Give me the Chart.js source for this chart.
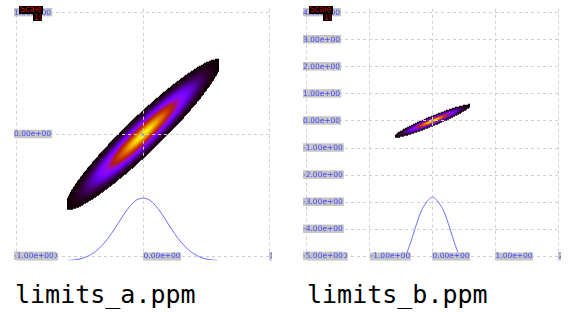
<!DOCTYPE html>
<html><head><meta charset="utf-8">
<script src="https://cdn.jsdelivr.net/npm/chart.js@4"></script>
<style>
html,body{margin:0;padding:0;background:#fff;width:573px;height:313px;overflow:hidden;position:relative}
canvas{position:absolute}
.cap{position:absolute;font-family:"DejaVu Sans Mono",monospace;font-size:25px;line-height:25px;color:#000;white-space:pre}
.leg{position:absolute;background:#000;color:#d00000;font-family:"DejaVu Sans",sans-serif;font-size:8px;line-height:8px;white-space:pre;overflow:hidden}
</style></head><body>
<canvas id="ca" width="258" height="259" style="left:14px;top:5px"></canvas>
<canvas id="cb" width="258" height="259" style="left:303px;top:5px"></canvas>
<div class="leg" style="left:19px;top:6px;width:23px;height:8px;padding-left:1px">Scale</div>
<div class="leg" style="left:33px;top:14px;width:8px;height:7px;padding-left:1px">10</div>
<div class="leg" style="left:309px;top:6px;width:23px;height:8px;padding-left:1px">Scale</div>
<div class="leg" style="left:323px;top:14px;width:8px;height:7px;padding-left:1px">10</div>
<div class="cap" style="left:15px;top:282px">limits_a.ppm</div>
<div class="cap" style="left:307px;top:282px">limits_b.ppm</div>
<script>
// ---- data ----
const xTicksA = [-1, 0, 1];
const yTicksA = [-1, 0, 1];
const xTicksB = [-2, -1, 0, 1, 2];
const yTicksB = [-5, -4, -3, -2, -1, 0, 1, 2, 3, 4];

const curveAX = [-0.6,-0.55,-0.5,-0.45,-0.4,-0.35,-0.3,-0.25,-0.2,-0.15,-0.1,-0.05,0,0.05,0.1,0.15,0.2,0.25,0.3,0.35,0.4,0.45,0.5,0.55,0.6];
const curveAY = [-1.035,-1.03,-1.021,-1.004,-0.977,-0.936,-0.881,-0.812,-0.733,-0.653,-0.584,-0.537,-0.522,-0.537,-0.584,-0.653,-0.733,-0.812,-0.881,-0.936,-0.977,-1.004,-1.021,-1.03,-1.035];

const curveBX = [-0.6,-0.5,-0.43,-0.38,-0.32,-0.27,-0.2,-0.12,0,0.12,0.2,0.27,0.32,0.38,0.43,0.5,0.6];
const curveBY = [-5.2,-5.08,-4.95,-4.7,-4.28,-3.92,-3.44,-3.08,-2.82,-3.08,-3.44,-3.92,-4.28,-4.7,-4.95,-5.08,-5.2];

// 2-D density image parameters (same field in both panels)
const heatMean = [0, 0];
const heatSigma = [0.2, 0.2];
const heatRho = [0.9465];
const heatXLimits = [-0.6, 0.6];
const heatCut = [4.8];

const centerMark = [{x: 0, y: 0}];

const TICK_FONT = {family: 'DejaVu Sans', size: 7.5, lineHeight: 1};
const TICK_COLOR = '#4646ff';
const TICK_BG = '#c6c6c6';

function fmt(v) {
  let s = Number(v).toExponential(2);
  return s.replace(/e([+-])(\d)$/, 'e$10$2');
}

const heatPlugin = {
  id: 'heat',
  beforeDraw(chart) {
    const {ctx, chartArea: a, scales: {x, y}} = chart;
    const w = Math.round(a.right - a.left), h = Math.round(a.bottom - a.top);
    const off = document.createElement('canvas');
    off.width = w; off.height = h;
    const octx = off.getContext('2d');
    const img = octx.createImageData(w, h);
    const mx = heatMean[0], my = heatMean[1], sx = heatSigma[0], sy = heatSigma[1];
    const r = heatRho[0], c = heatCut[0], d0 = Math.exp(-c);
    for (let j = 0; j < h; j++) {
      const vy = y.getValueForPixel(a.top + j + 0.5);
      for (let i = 0; i < w; i++) {
        const vx = x.getValueForPixel(a.left + i + 0.5);
        if (vx < heatXLimits[0] || vx > heatXLimits[1]) continue;
        const u = (vx - mx) / sx, v = (vy - my) / sy;
        const q = (u * u - 2 * r * u * v + v * v) / (2 * (1 - r * r));
        if (q > c) continue;
        const t = (Math.exp(-q) - d0) / (1 - d0);
        const k = (j * w + i) * 4;
        img.data[k] = Math.round(Math.sqrt(t) * 255);
        img.data[k + 1] = Math.round(t * t * t * 255);
        img.data[k + 2] = Math.round(Math.max(0, Math.sin(2 * Math.PI * t)) * 255);
        img.data[k + 3] = 255;
      }
    }
    octx.putImageData(img, 0, 0);
    ctx.drawImage(off, a.left, a.top);
  }
};

// x tick labels: left-aligned at the tick, centred on the lowest grid line
const xLabelPlugin = {
  id: 'xlabels',
  afterDatasetsDraw(chart) {
    const {ctx, scales: {x, y}} = chart;
    const base = y.ticks[0].value;
    const py = Math.round(y.getPixelForValue(base));
    ctx.save();
    ctx.font = TICK_FONT.size + 'px "' + TICK_FONT.family + '"';
    ctx.textBaseline = 'middle';
    ctx.textAlign = 'left';
    for (const t of x.ticks) {
      const px = Math.round(x.getPixelForValue(t.value));
      const label = fmt(t.value);
      const w = ctx.measureText(label).width;
      ctx.fillStyle = TICK_BG;
      ctx.fillRect(px, py - 3.5, w + 1, 8);
      ctx.fillStyle = TICK_COLOR;
      ctx.fillText(label, px + 0.5, py + 0.5);
    }
    ctx.restore();
  }
};

function axis(min, max, ticks, isX) {
  return {
    type: 'linear', min, max,
    afterBuildTicks: s => { s.ticks = ticks.map(v => ({value: v})); },
    grid: {color: '#d0d0d0', lineWidth: 1, drawTicks: false},
    border: {display: false, dash: [3, 3]},
    ticks: {
      display: !isX,
      mirror: true, padding: 0, autoSkip: false, maxRotation: 0, minRotation: 0, z: 1,
      color: TICK_COLOR,
      font: TICK_FONT,
      showLabelBackdrop: true, backdropColor: TICK_BG,
      backdropPadding: {left: 0, right: 1, top: 1, bottom: 0},
      callback: v => fmt(v)
    }
  };
}

function makeChart(id, cx, cy, xr, yr, xt, yt) {
  new Chart(document.getElementById(id), {
    type: 'scatter',
    data: {datasets: [
      {type: 'line', data: cx.map((v, i) => ({x: v, y: cy[i]})), borderColor: '#6c6cff', borderWidth: 1,
       pointRadius: 0, cubicInterpolationMode: 'monotone', fill: false},
      {data: centerMark, pointStyle: 'crossRot', pointRadius: 2.5, borderColor: '#8c8cb4', borderWidth: 1,
       backgroundColor: '#8c8cb4'}
    ]},
    options: {
      responsive: false, animation: false, devicePixelRatio: 1,
      layout: {padding: 0, autoPadding: false},
      plugins: {legend: {display: false}, tooltip: {enabled: false}},
      scales: {
        x: axis(xr[0], xr[1], xt, true),
        y: axis(yr[0], yr[1], yt, false)
      }
    },
    plugins: [heatPlugin, xLabelPlugin]
  });
}

makeChart('ca', curveAX, curveAY, [-1.0238, 1.0238], [-1.032, 1.032], xTicksA, yTicksA);
makeChart('cb', curveBX, curveBY, [-2.0637, 2.0478], [-5.144, 4.144], xTicksB, yTicksB);
</script>
</body></html>
